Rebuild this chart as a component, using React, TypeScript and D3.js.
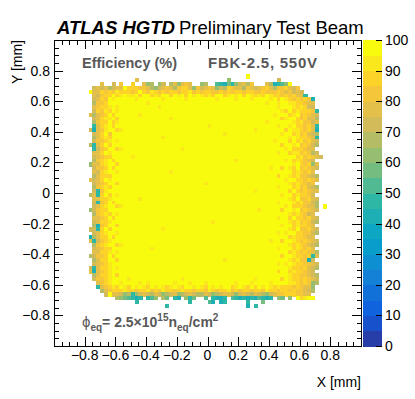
import React, { useEffect, useRef } from "react";
import * as d3 from "d3";

// axis ticks (mm) and palette ticks (%)
const xTicks = [-0.8, -0.6, -0.4, -0.2, 0, 0.2, 0.4, 0.6, 0.8];
const yTicks = [-0.8, -0.6, -0.4, -0.2, 0, 0.2, 0.4, 0.6, 0.8];
const zTicks = [0, 10, 20, 30, 40, 50, 60, 70, 80, 90, 100];

// histogram binning: 0.025 mm bins, first column at x = -0.8, first row top at y = 0.775
const binSize = 0.025;
const firstColEdge = -0.8;
const topRowEdge = 0.775;

// efficiency (%) for each character used in the rows below; "." = empty bin
const levelValue: Record<string, number> = {
  "9": 98, "8": 93, "7": 88, "6": 83, "5": 78, "4": 73, "3": 68,
  "2": 63, "1": 58, "0": 53, c: 48, b: 43, a: 38,
};

// first column of each row (top row first)
const rowStart = [
  42, 13, 3, 2, 1, 2, 2, 2, 2, 2,
  1, 2, 2, 2, 1, 2, 2, 2, 1, 2,
  2, 2, 2, 1, 2, 2, 2, 1, 2, 2,
  2, 1, 2, 2, 2, 1, 2, 2, 2, 2,
  1, 2, 1, 1, 2, 2, 2, 1, 2, 2,
  1, 1, 2, 2, 3, 3, 4, 5, 8, 13,
  21,
];

const rowCells = [
  "9",
  "5.......................2............4",
  ".5..4.6..7" + "..523.24.3" + "52565..23." + ".0cb1c2453" + "6...53bc029",
  "4545345597" + "7766532456" + "5367752645" + "6524376553" + "6545675366" + "7546",
  "9557676877" + "7679768767" + "6776778676" + "7766767677" + "6776676667" + "656454",
  "5467797898" + "8979978799" + "7989798987" + "8799789897" + "9878798776" + "76755c",
  "4576989999" + "9899999989" + "9999899999" + "9989999899" + "9899998979" + "8767676b",
  "366799" + "99999999899" + "99999999999" + "99999999999" + "99999989989" + "98877655",
  "567789" + "89999999999" + "89999999999" + "99999999999" + "99999999989" + "99878744",
  "476879" + "89999999999" + "99999999999" + "99999999999" + "99999999998" + "79787776c",
  "5356797" + "99999989999" + "99999999999" + "99999999999" + "99999999899" + "978967654",
  "457889" + "79999999999" + "99989999999" + "99999999999" + "99999999997" + "899767553",
  "367797" + "89999999999" + "99999999999" + "99999999999" + "99999989999" + "998786645",
  "c57897" + "99999999999" + "99999999999" + "99899999999" + "99999999989" + "98977675c",
  "4b56899" + "78999999999" + "99999999999" + "99999999999" + "99989999999" + "79887675b",
  "457969" + "99999999999" + "99999999999" + "99999989999" + "99999999998" + "997867543",
  "357879" + "99999999999" + "98999999999" + "99999999999" + "99999999999" + "98987765c",
  "466789" + "89999999999" + "99999999999" + "99999999999" + "99999999899" + "979786754",
  "3c57979" + "99999999999" + "99999999999" + "99999999999" + "99999999997" + "998967643",
  "c46799" + "78999999999" + "99999989999" + "99999999999" + "99999999999" + "89777655",
  "557989" + "99999999999" + "99999999999" + "99999999999" + "99999999989" + "978867634",
  "456779" + "99998999999" + "99999999999" + "99999999999" + "99999999999" + "9997867654",
  "367897" + "99999999999" + "99999999999" + "99999999989" + "99999999999" + "89787654",
  "2557899" + "79999999999" + "99999999999" + "99999999999" + "99999999999" + "998976725",
  "466797" + "99999999999" + "99999999999" + "99999999999" + "99999998997" + "987967654",
  "547899" + "89999999999" + "99989999999" + "99999999999" + "99999999999" + "99787675",
  "357779" + "99999999999" + "99999999999" + "99999999999" + "99999999979" + "987866543",
  "5457989" + "99999999999" + "99999999999" + "99999999999" + "99999999999" + "899776765",
  "456799" + "79999999999" + "99999999999" + "98999999999" + "99999999999" + "98787656",
  "367879" + "99999999999" + "99999999999" + "99999999999" + "99999999989" + "997867543",
  "4c6899" + "99999999999" + "99999999999" + "99999999999" + "99989999999" + "979767655",
  "35c7979" + "89999999999" + "99999999999" + "99999999999" + "99999999998" + "99787764",
  "557789" + "99999989999" + "99999999999" + "99999999999" + "99999999999" + "987966754",
  "4c6797" + "99999999999" + "99999999999" + "99999999999" + "99999999989" + "998786643",
  "457899" + "78999999999" + "99999999999" + "99999999999" + "99999999999" + "897776553.9",
  "2467799" + "99999999999" + "99999999999" + "99999999999" + "99998999997" + "998967654",
  "367879" + "89999999999" + "99999999999" + "99999999999" + "99999999999" + "98787645",
  "556797" + "99999999999" + "99999999999" + "99999999999" + "99999999989" + "979776754",
  "457789" + "99999999999" + "99999999999" + "99989999999" + "99999999999" + "987867643",
  "3b6799" + "79999999999" + "99999999999" + "99999999999" + "99999999998" + "99787765",
  "44c7979" + "99999999999" + "98999999999" + "99999999999" + "99999999999" + "987966754",
  "457899" + "89999999999" + "99999999999" + "99999999999" + "99999999989" + "899776643",
  "b357797" + "99999999999" + "99999999999" + "99999999999" + "99999999999" + "97877655",
  "5c46789" + "99999999999" + "99999999999" + "99999999999" + "99999998997" + "998767654",
  "367899" + "78999999999" + "99999999999" + "99999999999" + "99999999999" + "987876543",
  "456779" + "99999999989" + "99999999999" + "99999999999" + "99999999989" + "99787675",
  "557789" + "89999999999" + "99999999999" + "99999999999" + "99999999999" + "978767653",
  "3466797" + "99999999999" + "99999999999" + "99999999999" + "99999999997" + "9987767c5",
  "357799" + "79999999999" + "99999999999" + "99999989999" + "99999999999" + "987866b4",
  "456789" + "99999999999" + "99999999999" + "99999999999" + "99999999989" + "898776654",
  "4c57789" + "89999999999" + "99999999999" + "99999999999" + "99999999999" + "987767543",
  "5b56789" + "99999999999" + "99999999999" + "99999999999" + "99999999979" + "97877654",
  "357789" + "79999999999" + "99999999999" + "99999999999" + "99999999999" + "987766543",
  "466789" + "99989999999" + "99999989999" + "99999999999" + "99989999997" + "987767654",
  "56789" + "98999989899" + "99998999899" + "98999999989" + "99899998999" + "988767623",
  "c5678" + "79879898798" + "98789879989" + "87989899789" + "87979898787" + "77676552",
  "3567" + "77877677867" + "68776787767" + "76876778676" + "77677687767" + "76766543",
  "495" + "5423c245435" + "42345234543" + "35423455424" + "54354324566" + "7776655",
  "3210cbc.c0" + "2.31.cb.2c" + "1..0.cbbc." + "0cbcbcb0cb" + "c.21.2.97899",
  "c.............c....0b.bc.....c...1",
  "c....................b.c",
];

const levelStops = [0, 0.125, 0.25, 0.375, 0.5, 0.625, 0.75, 0.875, 1];
const levelColors = [
  [0.2082, 0.1664, 0.5293], [0.0592, 0.3599, 0.8684], [0.078, 0.5041, 0.8385],
  [0.0232, 0.6419, 0.7914], [0.1802, 0.7178, 0.6425], [0.5301, 0.7492, 0.4662],
  [0.8186, 0.7328, 0.3499], [0.9956, 0.7862, 0.1968], [0.9764, 0.9832, 0.0539],
].map(([r, g, b]) => d3.rgb(r * 255, g * 255, b * 255).formatHex());

function EfficiencyMap() {
  const svgRef = useRef<SVGSVGElement>(null);

  useEffect(() => {
    const W = 415;
    const H = 399;
    const frame = { left: 54, right: 361, top: 40, bottom: 346 };
    const font = "'Liberation Sans', Arial, Helvetica, sans-serif";

    const svg = d3.select(svgRef.current);
    svg.selectAll("*").remove();
    svg.attr("width", W).attr("height", H);

    const x = d3.scaleLinear().domain([-1, 1]).range([frame.left, frame.right]);
    const y = d3.scaleLinear().domain([-1, 1]).range([frame.bottom, frame.top]);
    const z = d3.scaleLinear().domain([0, 100]).range([frame.bottom, frame.top]);

    // ROOT kBird palette, 20 contours
    const bird = d3.scaleLinear<string>().domain(levelStops).range(levelColors)
      .interpolate(d3.interpolateRgb);
    const nLevels = 20;
    const bandColor = (k: number) => {
      const idx = Math.floor(((k + 0.99) * 255) / nLevels);
      return bird(Math.min(idx, 254) / 254);
    };
    const colorOf = (v: number) => bandColor(Math.min(nLevels - 1, Math.floor(v / 5)));

    // cells
    const cells: { c: number; r: number; v: number }[] = [];
    rowCells.forEach((row, r) => {
      row.split("").forEach((ch, i) => {
        if (ch in levelValue) cells.push({ c: rowStart[r] + i, r, v: levelValue[ch] });
      });
    });

    svg.append("g")
      .attr("shape-rendering", "crispEdges")
      .selectAll("rect")
      .data(cells)
      .join("rect")
      .attr("x", (d) => x(firstColEdge + d.c * binSize))
      .attr("y", (d) => y(topRowEdge - d.r * binSize))
      .attr("width", (d) => x(firstColEdge + (d.c + 1) * binSize) - x(firstColEdge + d.c * binSize) + 0.3)
      .attr("height", (d) => y(topRowEdge - (d.r + 1) * binSize) - y(topRowEdge - d.r * binSize) + 0.3)
      .attr("fill", (d) => colorOf(d.v));

    // frame
    svg.append("rect")
      .attr("x", frame.left).attr("y", frame.top)
      .attr("width", frame.right - frame.left).attr("height", frame.bottom - frame.top)
      .attr("fill", "none").attr("stroke", "#000").attr("stroke-width", 1)
      .attr("shape-rendering", "crispEdges");

    // ticks on all four sides, pointing inwards
    const minor = d3.range(-19, 20).map((i) => i * 0.05);
    const isMajor = (v: number) => Math.abs(v * 5 - Math.round(v * 5)) < 1e-6;
    const tg = svg.append("g").attr("stroke", "#000").attr("shape-rendering", "crispEdges");
    minor.forEach((v) => {
      const len = isMajor(v) ? 9 : 4.5;
      const px = Math.round(x(v)) + 0.5;
      const py = Math.round(y(v)) + 0.5;
      tg.append("line").attr("x1", px).attr("x2", px).attr("y1", frame.bottom).attr("y2", frame.bottom - len);
      tg.append("line").attr("x1", px).attr("x2", px).attr("y1", frame.top).attr("y2", frame.top + len);
      tg.append("line").attr("y1", py).attr("y2", py).attr("x1", frame.left).attr("x2", frame.left + len);
      tg.append("line").attr("y1", py).attr("y2", py).attr("x1", frame.right).attr("x2", frame.right - len);
    });

    const fmt = d3.format(".1~f");
    svg.append("g").selectAll("text").data(xTicks).join("text")
      .attr("x", (d) => x(d)).attr("y", 360)
      .attr("text-anchor", "middle")
      .attr("font-family", font).attr("font-size", 14)
      .text((d) => fmt(d));
    svg.append("g").selectAll("text").data(yTicks).join("text")
      .attr("x", 50).attr("y", (d) => y(d) + 5)
      .attr("text-anchor", "end")
      .attr("font-family", font).attr("font-size", 14)
      .text((d) => fmt(d));

    // axis titles
    svg.append("text")
      .attr("x", frame.right).attr("y", 387)
      .attr("text-anchor", "end")
      .attr("font-family", font).attr("font-size", 14)
      .text("X [mm]");
    svg.append("text")
      .attr("transform", `translate(22,${frame.top}) rotate(-90)`)
      .attr("text-anchor", "end")
      .attr("font-family", font).attr("font-size", 14)
      .text("Y [mm]");

    // palette
    const pal = { left: 363, right: 382 };
    svg.append("g")
      .attr("shape-rendering", "crispEdges")
      .selectAll("rect")
      .data(d3.range(nLevels))
      .join("rect")
      .attr("x", pal.left)
      .attr("width", pal.right - pal.left)
      .attr("y", (k) => z((k + 1) * 5))
      .attr("height", (k) => z(k * 5) - z((k + 1) * 5) + 0.5)
      .attr("fill", (k) => bandColor(k));
    const pg = svg.append("g").attr("stroke", "#000").attr("shape-rendering", "crispEdges");
    zTicks.forEach((v) => {
      const py = Math.round(z(v)) + 0.5;
      pg.append("line").attr("x1", pal.right).attr("x2", pal.right - 6).attr("y1", py).attr("y2", py);
    });
    svg.append("g").selectAll("text").data(zTicks).join("text")
      .attr("x", 385).attr("y", (d) => z(d) + 5)
      .attr("font-family", font).attr("font-size", 14)
      .text((d) => d);

    // header
    const head = svg.append("text").attr("x", 57).attr("y", 34)
      .attr("font-family", font).attr("font-size", 18.5);
    head.append("tspan").attr("font-weight", "bold").attr("font-style", "italic").text("ATLAS HGTD");
    head.append("tspan").attr("x", 179).text("Preliminary Test Beam");

    // labels inside the frame
    const grey = "#585858";
    svg.append("text").attr("x", 82).attr("y", 68)
      .attr("font-family", font).attr("font-size", 14.5).attr("font-weight", "bold").attr("fill", grey)
      .text("Efficiency (%)");
    svg.append("text").attr("x", 208).attr("y", 68)
      .attr("font-family", font).attr("font-size", 15).attr("font-weight", "bold").attr("fill", grey)
      .attr("textLength", 109).attr("lengthAdjust", "spacing")
      .text("FBK-2.5, 550V");

    const fl = svg.append("text").attr("x", 82).attr("y", 327)
      .attr("font-family", font).attr("font-size", 14).attr("font-weight", "bold").attr("fill", grey);
    fl.append("tspan").attr("font-weight", "normal").attr("font-size", 15).text("\u03d5");
    fl.append("tspan").attr("dy", 4).attr("font-size", 10).text("eq");
    fl.append("tspan").attr("dy", -4).text("= 2.5\u00d710");
    fl.append("tspan").attr("dy", -6).attr("font-size", 10).text("15");
    fl.append("tspan").attr("dy", 6).text("n");
    fl.append("tspan").attr("dy", 4).attr("font-size", 10).text("eq");
    fl.append("tspan").attr("dy", -4).text("/cm");
    fl.append("tspan").attr("dy", -6).attr("font-size", 10).text("2");
  }, []);

  return <svg ref={svgRef} style={{ position: "absolute", left: 0, top: 0 }}></svg>;
}

export default function App() {
  return <EfficiencyMap />;
}
